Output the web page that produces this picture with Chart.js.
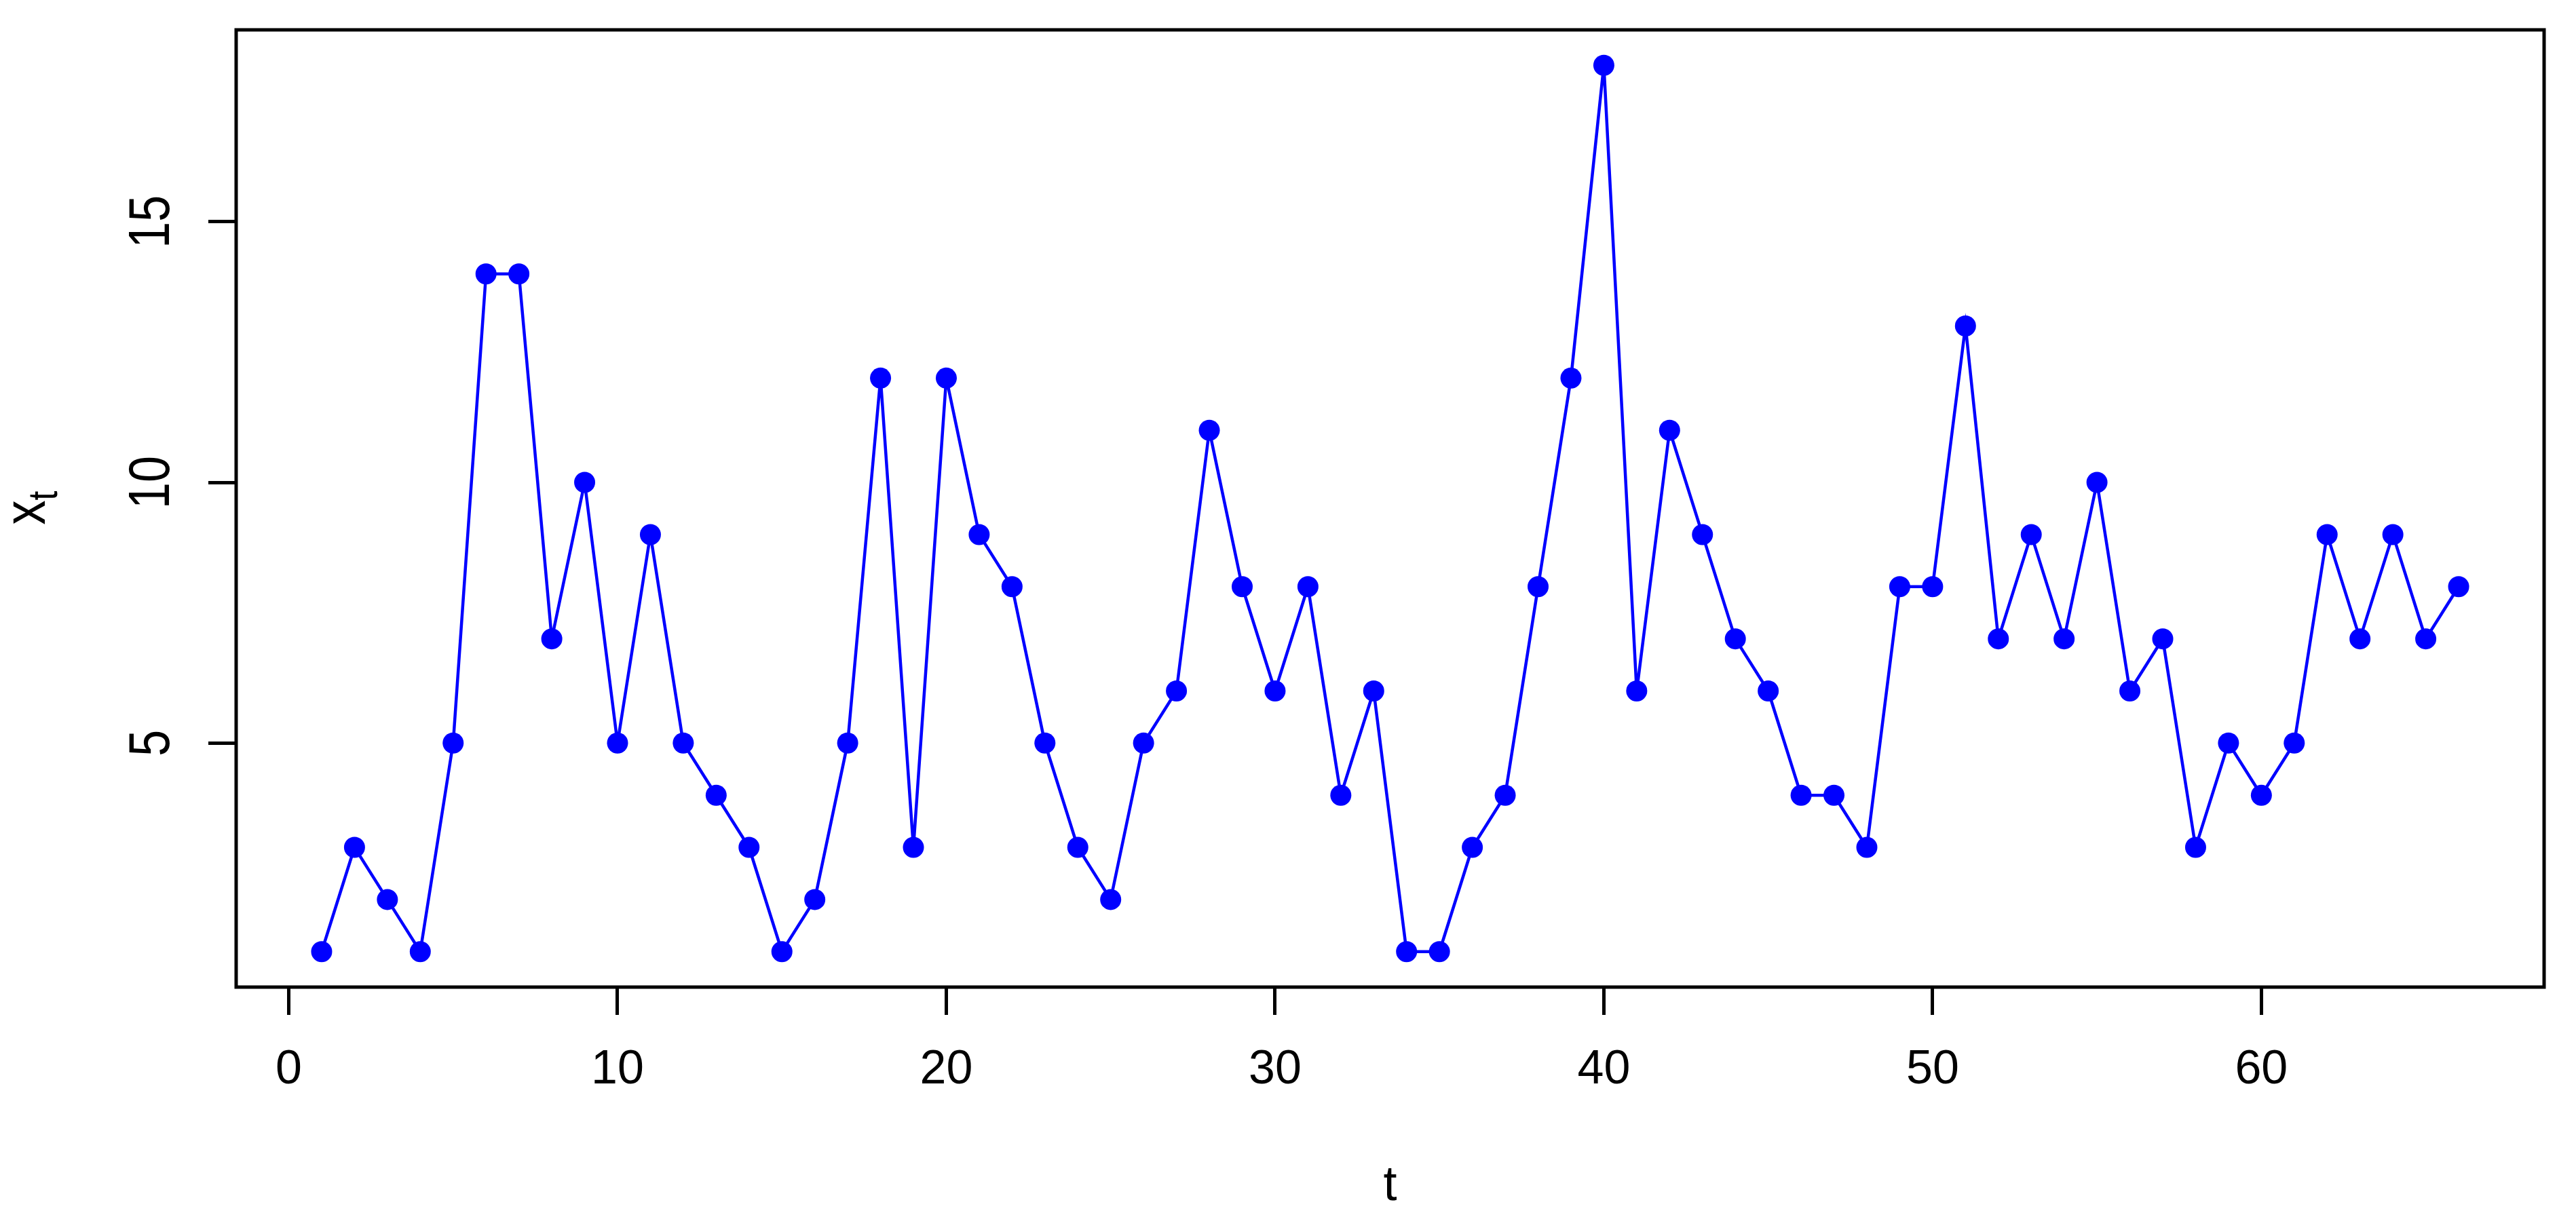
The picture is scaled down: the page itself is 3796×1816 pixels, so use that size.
<!DOCTYPE html>
<html>
<head>
<meta charset="utf-8">
<script src="https://cdn.jsdelivr.net/npm/chart.js@4.4.1/dist/chart.umd.min.js"></script>
<style>
  html, body { margin: 0; padding: 0; background: #fff; }
  #wrap { width: 3796px; height: 1816px; }
</style>
</head>
<body>
<div id="wrap"><canvas id="tsChart"></canvas></div>
<script>
const timeIdx = [1, 2, 3, 4, 5, 6, 7, 8, 9, 10, 11, 12, 13, 14, 15, 16, 17, 18, 19, 20, 21, 22,
  23, 24, 25, 26, 27, 28, 29, 30, 31, 32, 33, 34, 35, 36, 37, 38, 39, 40, 41, 42, 43, 44,
  45, 46, 47, 48, 49, 50, 51, 52, 53, 54, 55, 56, 57, 58, 59, 60, 61, 62, 63, 64, 65, 66];
const xt = [1, 3, 2, 1, 5, 14, 14, 7, 10, 5, 9, 5, 4, 3, 1, 2, 5, 12, 3, 12, 9, 8,
  5, 3, 2, 5, 6, 11, 8, 6, 8, 4, 6, 1, 1, 3, 4, 8, 12, 18, 6, 11, 9, 7,
  6, 4, 4, 3, 8, 8, 13, 7, 9, 7, 10, 6, 7, 3, 5, 4, 5, 9, 7, 9, 7, 8];
const xTicks = [0, 10, 20, 30, 40, 50, 60];
const yTicks = [5, 10, 15];

const FONT = 'Liberation Sans, Arial, sans-serif';
const BLUE = '#0000ff';

// R-style box, rotated y labels and axis titles
const rDecor = {
  id: 'rDecor',
  afterDraw(chart) {
    const ctx = chart.ctx;
    const a = chart.chartArea;
    const ys = chart.scales.y;
    ctx.save();
    ctx.strokeStyle = '#000';
    ctx.lineWidth = 5;
    ctx.strokeRect(a.left, a.top, a.right - a.left, a.bottom - a.top);

    ctx.fillStyle = '#000';
    ctx.textAlign = 'center';
    ctx.textBaseline = 'middle';
    ctx.font = '70px ' + FONT;
    yTicks.forEach(v => {
      ctx.save();
      ctx.translate(225, ys.getPixelForValue(v));
      ctx.scale(1.22, 1);
      ctx.rotate(-Math.PI / 2);
      ctx.fillText(String(v), 0, 0);
      ctx.restore();
    });

    // x axis title
    ctx.font = '72px ' + FONT;
    ctx.fillText('t', (a.left + a.right) / 2, 1749);

    // y axis title: x with subscript t
    ctx.save();
    ctx.translate(55, (a.top + a.bottom) / 2);
    ctx.scale(1.22, 1);
    ctx.rotate(-Math.PI / 2);
    ctx.font = '72px ' + FONT;
    ctx.fillText('x', -6, -11);
    ctx.font = '50px ' + FONT;
    ctx.fillText('t', 19, 10);
    ctx.restore();
    ctx.restore();
  }
};

const ctx = document.getElementById('tsChart').getContext('2d');
const tsChart = new Chart(ctx, {
  type: 'scatter',
  data: {
    datasets: [{
      label: 'x_t',
      data: timeIdx.map((t, i) => ({ x: t, y: xt[i] })),
      showLine: true,
      borderColor: BLUE,
      borderWidth: 4.5,
      backgroundColor: BLUE,
      pointBackgroundColor: BLUE,
      pointBorderWidth: 0,
      pointRadius: 15.5,
      pointHoverRadius: 15.5,
      tension: 0
    }]
  },
  options: {
    responsive: true,
    maintainAspectRatio: false,
    animation: false,
    layout: { padding: { top: 44, right: 47, left: 0, bottom: 0 } },
    plugins: {
      legend: { display: false },
      tooltip: { enabled: false }
    },
    scales: {
      x: {
        type: 'linear',
        min: -1.6,
        max: 68.6,
        afterBuildTicks: s => { s.ticks = xTicks.map(v => ({ value: v })); },
        afterFit: s => { s.height = 361; },
        border: { display: false },
        grid: {
          drawOnChartArea: false,
          drawTicks: true,
          tickLength: 41,
          tickWidth: 5,
          lineWidth: 5,
          color: '#000'
        },
        ticks: {
          color: '#000',
          padding: 40,
          maxRotation: 0,
          autoSkip: false,
          font: { family: FONT, size: 70 }
        }
      },
      y: {
        type: 'linear',
        min: 0.32,
        max: 18.68,
        afterBuildTicks: s => { s.ticks = yTicks.map(v => ({ value: v })); },
        afterFit: s => { s.width = 348; },
        border: { display: false },
        grid: {
          drawOnChartArea: false,
          drawTicks: true,
          tickLength: 41,
          tickWidth: 5,
          lineWidth: 5,
          color: '#000'
        },
        ticks: { display: false }
      }
    }
  },
  plugins: [rDecor]
});
</script>
</body>
</html>
